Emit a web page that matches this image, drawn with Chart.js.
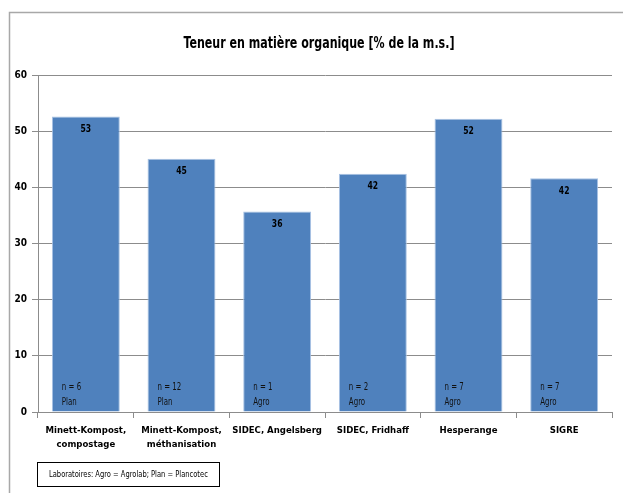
<!DOCTYPE html>
<html><head><meta charset="utf-8">
<script src="https://cdn.jsdelivr.net/npm/chart.js@4"></script>
<style>html,body{margin:0;padding:0;background:#fff}#wrap{width:623px;height:493px}</style>
</head><body><div id="wrap"><canvas id="c" width="623" height="493"></canvas></div>
<script>
const categories = [["Minett-Kompost,","compostage"],["Minett-Kompost,","méthanisation"],"SIDEC, Angelsberg","SIDEC, Fridhaff","Hesperange","SIGRE"];
const values = [52.6, 45.1, 35.7, 42.4, 52.2, 41.6];
const valueLabels = ["53","45","36","42","52","42"];
const nCounts = ["n = 6","n = 12","n = 1","n = 2","n = 7","n = 7"];
const labs = ["Plan","Plan","Agro","Agro","Agro","Agro"];
const titleText = "Teneur en matière organique [% de la m.s.]";
const noteText = "Laboratoires: Agro = Agrolab; Plan = Plancotec";
const FONT = "'DejaVu Sans Condensed', 'Roboto', sans-serif";

function squeezed(ctx, text, x, y, sx) {
  ctx.save();
  ctx.translate(x, y);
  ctx.scale(sx, 1);
  ctx.fillText(text, 0, 0);
  ctx.restore();
}

const deco = {
  id: 'deco',
  beforeDraw(chart) {
    const ctx = chart.ctx;
    ctx.save();
    ctx.fillStyle = '#fff';
    ctx.fillRect(0, 0, chart.width, chart.height);
    ctx.strokeStyle = '#a8a8a8';
    ctx.lineWidth = 1.5;
    ctx.beginPath();
    ctx.moveTo(9.5, 493);
    ctx.lineTo(9.5, 12.5);
    ctx.lineTo(623, 12.5);
    ctx.stroke();
    ctx.restore();
  },
  afterDraw(chart) {
    const ctx = chart.ctx;
    const meta = chart.getDatasetMeta(0);
    ctx.save();
    ctx.fillStyle = '#000';
    ctx.font = "bold 15px " + FONT;
    ctx.textAlign = 'center';
    ctx.textBaseline = 'middle';
    squeezed(ctx, titleText, 319, 44, 0.82);
    meta.data.forEach((bar, i) => {
      ctx.font = "bold 10px " + FONT;
      ctx.textAlign = 'center';
      ctx.fillStyle = '#000';
      squeezed(ctx, valueLabels[i], bar.x, bar.y + 13, 0.85);
      ctx.font = "10px " + FONT;
      ctx.textAlign = 'left';
      ctx.fillStyle = '#111';
      const left = bar.x - bar.width / 2 + 10;
      squeezed(ctx, nCounts[i], left, 387, 0.78);
      squeezed(ctx, labs[i], left, 402, 0.78);
    });
    ctx.strokeStyle = '#000';
    ctx.lineWidth = 1;
    ctx.strokeRect(37.5, 462.5, 182, 24);
    ctx.font = "9px " + FONT;
    ctx.textAlign = 'left';
    ctx.fillStyle = '#000';
    squeezed(ctx, noteText, 49, 474.5, 0.83);
    ctx.restore();
  }
};

new Chart(document.getElementById('c'), {
  type: 'bar',
  data: {
    labels: categories,
    datasets: [{
      data: values,
      backgroundColor: '#4F81BD',
      borderColor: '#a9c3e4',
      borderWidth: {top: 1, left: 1, right: 1, bottom: 0},
      categoryPercentage: 1,
      barPercentage: 0.71
    }]
  },
  options: {
    responsive: false,
    animation: false,
    events: [],
    layout: { padding: { top: 75, right: 11, bottom: 31, left: 0 } },
    plugins: { legend: { display: false }, title: { display: false }, tooltip: { enabled: false } },
    scales: {
      y: {
        min: 0, max: 60,
        ticks: { stepSize: 10, color: '#000', font: { family: FONT, size: 10, weight: 'bold' }, padding: 5 },
        grid: { color: '#8c8c8c', tickLength: 6, drawTicks: true },
        border: { color: '#8c8c8c' },
        afterFit(s) { s.width = 38; }
      },
      x: {
        ticks: { color: '#000', font: { family: FONT, size: 9.5, weight: 'bold', lineHeight: 1.45 }, padding: 6, maxRotation: 0, autoSkip: false },
        grid: { drawOnChartArea: false, drawTicks: true, tickLength: 6, color: '#8c8c8c', offset: true },
        border: { color: '#8c8c8c' },
        afterFit(s) { s.height = 50; }
      }
    }
  },
  plugins: [deco]
});
</script>
</body></html>
